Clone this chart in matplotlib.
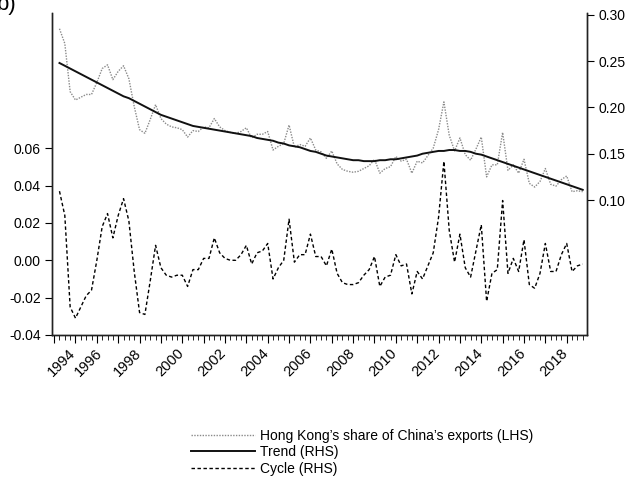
import numpy as np
import matplotlib
matplotlib.use("Agg")
import matplotlib.pyplot as plt
from matplotlib.ticker import FixedLocator, FuncFormatter, NullFormatter

plt.rcParams['font.family'] = ['Liberation Sans', 'DejaVu Sans']

# quarterly observations, 1994Q2 .. 2018Q4
start_year, start_quarter = 1994, 2
n_obs = 99

share = [0.285, 0.269, 0.217, 0.208, 0.211, 0.214, 0.214, 0.227, 0.242, 0.246,
         0.230, 0.239, 0.245, 0.231, 0.201, 0.176, 0.172, 0.187, 0.203, 0.188,
         0.182, 0.179, 0.178, 0.176, 0.168, 0.175, 0.174, 0.179, 0.178, 0.188,
         0.179, 0.175, 0.173, 0.172, 0.174, 0.178, 0.167, 0.171, 0.171, 0.174,
         0.154, 0.158, 0.161, 0.181, 0.157, 0.160, 0.158, 0.167, 0.154, 0.152,
         0.145, 0.153, 0.139, 0.133, 0.131, 0.130, 0.131, 0.134, 0.137, 0.144,
         0.129, 0.134, 0.136, 0.147, 0.142, 0.144, 0.129, 0.142, 0.140, 0.148,
         0.156, 0.176, 0.206, 0.170, 0.153, 0.167, 0.149, 0.143, 0.155, 0.168,
         0.125, 0.138, 0.138, 0.173, 0.132, 0.138, 0.129, 0.144, 0.118, 0.114,
         0.120, 0.134, 0.117, 0.115, 0.122, 0.126, 0.109, 0.110, 0.109]

trend = [0.248, 0.245, 0.242, 0.239, 0.236, 0.233, 0.230, 0.227, 0.224, 0.221,
         0.218, 0.215, 0.212, 0.210, 0.207, 0.204, 0.201, 0.198, 0.195, 0.192,
         0.190, 0.188, 0.186, 0.184, 0.182, 0.180, 0.179, 0.178, 0.177, 0.176,
         0.175, 0.174, 0.173, 0.172, 0.171, 0.170, 0.169, 0.167, 0.166, 0.165,
         0.164, 0.162, 0.161, 0.159, 0.158, 0.157, 0.155, 0.153, 0.152, 0.150,
         0.148, 0.147, 0.146, 0.145, 0.144, 0.143, 0.143, 0.142, 0.142, 0.142,
         0.143, 0.143, 0.144, 0.144, 0.145, 0.146, 0.147, 0.148, 0.150, 0.151,
         0.152, 0.153, 0.153, 0.154, 0.154, 0.153, 0.153, 0.152, 0.150, 0.149,
         0.147, 0.145, 0.143, 0.141, 0.139, 0.137, 0.135, 0.133, 0.131, 0.129,
         0.127, 0.125, 0.123, 0.121, 0.119, 0.117, 0.115, 0.113, 0.111]

cycle = [0.037, 0.024, -0.025, -0.031, -0.025, -0.019, -0.016, 0.000, 0.018, 0.025,
         0.012, 0.024, 0.033, 0.021, -0.006, -0.028, -0.029, -0.011, 0.008, -0.004,
         -0.008, -0.009, -0.008, -0.008, -0.014, -0.005, -0.005, 0.001, 0.001, 0.012,
         0.004, 0.001, 0.000, 0.000, 0.003, 0.008, -0.002, 0.004, 0.005, 0.009,
         -0.010, -0.004, 0.000, 0.022, -0.001, 0.003, 0.003, 0.014, 0.002, 0.002,
         -0.003, 0.006, -0.007, -0.012, -0.013, -0.013, -0.012, -0.008, -0.005, 0.002,
         -0.014, -0.009, -0.008, 0.003, -0.003, -0.002, -0.018, -0.006, -0.010, -0.003,
         0.004, 0.023, 0.053, 0.016, -0.001, 0.014, -0.004, -0.009, 0.005, 0.019,
         -0.022, -0.007, -0.005, 0.032, -0.007, 0.001, -0.006, 0.011, -0.013, -0.015,
         -0.007, 0.009, -0.006, -0.006, 0.003, 0.009, -0.006, -0.003, -0.002]

left_ticks = [-0.04, -0.02, 0.00, 0.02, 0.04, 0.06]
right_ticks = [0.10, 0.15, 0.20, 0.25, 0.30]
years = list(range(1994, 2019))
label_years = years[::2]

t = start_year + (start_quarter - 1) / 4 + np.arange(n_obs) / 4

fig = plt.figure(figsize=(6.28, 4.78), dpi=100)
ax = fig.add_axes([0.0828, 0.2992, 0.8519, 0.6736])
ax2 = ax.twinx()

l3, = ax.plot(t, cycle, color='black', lw=1.0, linestyle=(0, (2.5, 1.8)))
l1, = ax2.plot(t, share, color='#8a8a8a', lw=1.0, linestyle=(0, (1, 1)))
l2, = ax2.plot(t, trend, color='#111111', lw=1.4)

ax.set_xlim(1993.9, 2018.95)
ax.set_ylim(-0.04, 0.1324)
ax2.set_ylim(-0.0458, 0.302)

ax.set_yticks(left_ticks)
ax.yaxis.set_major_formatter(FuncFormatter(lambda v, p: f"{v:.2f}"))
ax2.set_yticks(right_ticks)
ax2.yaxis.set_major_formatter(FuncFormatter(lambda v, p: f"{v:.2f}"))

ax.xaxis.set_major_locator(FixedLocator(years))
ax.xaxis.set_minor_locator(FixedLocator([y + q / 4 for y in range(1993, 2019) for q in range(4)]))
ax.xaxis.set_major_formatter(NullFormatter())

# year labels every other year, slanted; the first two are nudged right
nudge = {1994: 20, 1996: 4}
for y in label_years:
    dx = (4 + nudge.get(y, 0)) * 0.72
    ax.annotate(str(y), xy=(y, 0), xycoords=ax.get_xaxis_transform(),
                xytext=(dx, -8), textcoords='offset points',
                rotation=45, ha='right', va='top', fontsize=10.5,
                rotation_mode='default', annotation_clip=False)

for a in (ax, ax2):
    a.spines['top'].set_visible(False)
    for s in ('left', 'right', 'bottom'):
        a.spines[s].set_linewidth(1.0)
        a.spines[s].set_color('#222222')
ax.tick_params(axis='y', direction='out', length=5, labelsize=10, pad=3)
ax2.tick_params(axis='y', direction='out', length=5, labelsize=10, pad=3)
ax.tick_params(axis='x', which='major', direction='out', length=6, pad=2)
ax.tick_params(axis='x', which='minor', direction='out', length=3.5)

fig.legend([l1, l2, l3],
           ["Hong Kong\u2019s share of China\u2019s exports (LHS)", "Trend (RHS)", "Cycle (RHS)"],
           loc='upper left', bbox_to_anchor=(0.304, 0.103), frameon=False,
           fontsize=10, handlelength=4.6, handletextpad=0.4, labelspacing=0.18,
           borderpad=0, borderaxespad=0)

fig.text(-0.006, 1.012, 'b)', fontsize=16, ha='left', va='top')

fig.savefig('out.png', dpi=100)
